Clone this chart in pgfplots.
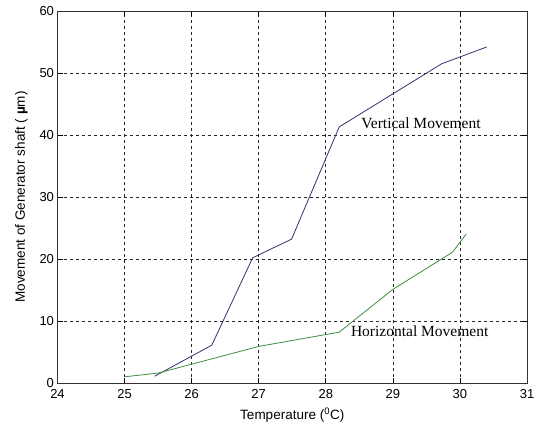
\documentclass[border=0pt]{standalone}
\usepackage{pgfplots}
\pgfplotsset{compat=1.18}
\usepackage{fontspec}
\setmainfont{Liberation Sans}
\newfontfamily\seriffont{Liberation Serif}
\definecolor{vline}{HTML}{33336E}
\definecolor{hline}{HTML}{3E8E3E}
\begin{document}
\begin{tikzpicture}[x=1pt,y=1pt]
\begin{axis}[
  scale only axis,
  width=469.5pt, height=372pt,
  xmin=24, xmax=31, ymin=0, ymax=60,
  xtick={24,...,31}, ytick={0,10,...,60},
  tick align=inside,
  major tick length=5pt,
  grid=major,
  major grid style={black!85, dash pattern=on 3pt off 3pt, line width=0.7pt},
  axis line style={black!80, line width=0.8pt},
  tick style={black, line width=0.7pt},
  /pgf/number format/assume math mode=true,
  ticklabel style={font=\fontsize{13}{14}\selectfont},
  xticklabel style={yshift=-3pt},
  yticklabel style={xshift=0pt},
  xlabel={Temperature (\textsuperscript{0}C)},
  ylabel={Movement of Generator shaft ( \textbf{µ}m)},
  label style={font=\fontsize{13.5}{15}\selectfont},
  xlabel style={yshift=-2pt},
  ylabel style={yshift=5pt},
]
\coordinate (sw) at (rel axis cs:0,0);
\coordinate (ne) at (rel axis cs:1,1);
\addplot[vline, line width=0.8pt] coordinates {
 (25.45,1.1) (26.3,6.1) (26.91,20.2) (27.49,23.2) (28.2,41.3) (29.73,51.5) (30.4,54.2)
};
\addplot[hline, line width=0.8pt] coordinates {
 (25.0,1.0) (25.5,1.6) (27.0,5.9) (28.2,8.2) (29.0,15.1) (29.89,21.1) (30.09,24.0)
};
\node[font=\seriffont\fontsize{15.5}{16}\selectfont] at (axis cs:29.42,41.9) {Vertical Movement};
\node[font=\seriffont\fontsize{15.5}{16}\selectfont] at (axis cs:29.4,8.3) {Horizontal Movement};
\end{axis}
\path (sw) ++(-57.5pt,-40pt) coordinate (bb1);
\path (ne) ++(11pt,11pt) coordinate (bb2);
\useasboundingbox (bb1) rectangle (bb2);
\end{tikzpicture}
\end{document}
